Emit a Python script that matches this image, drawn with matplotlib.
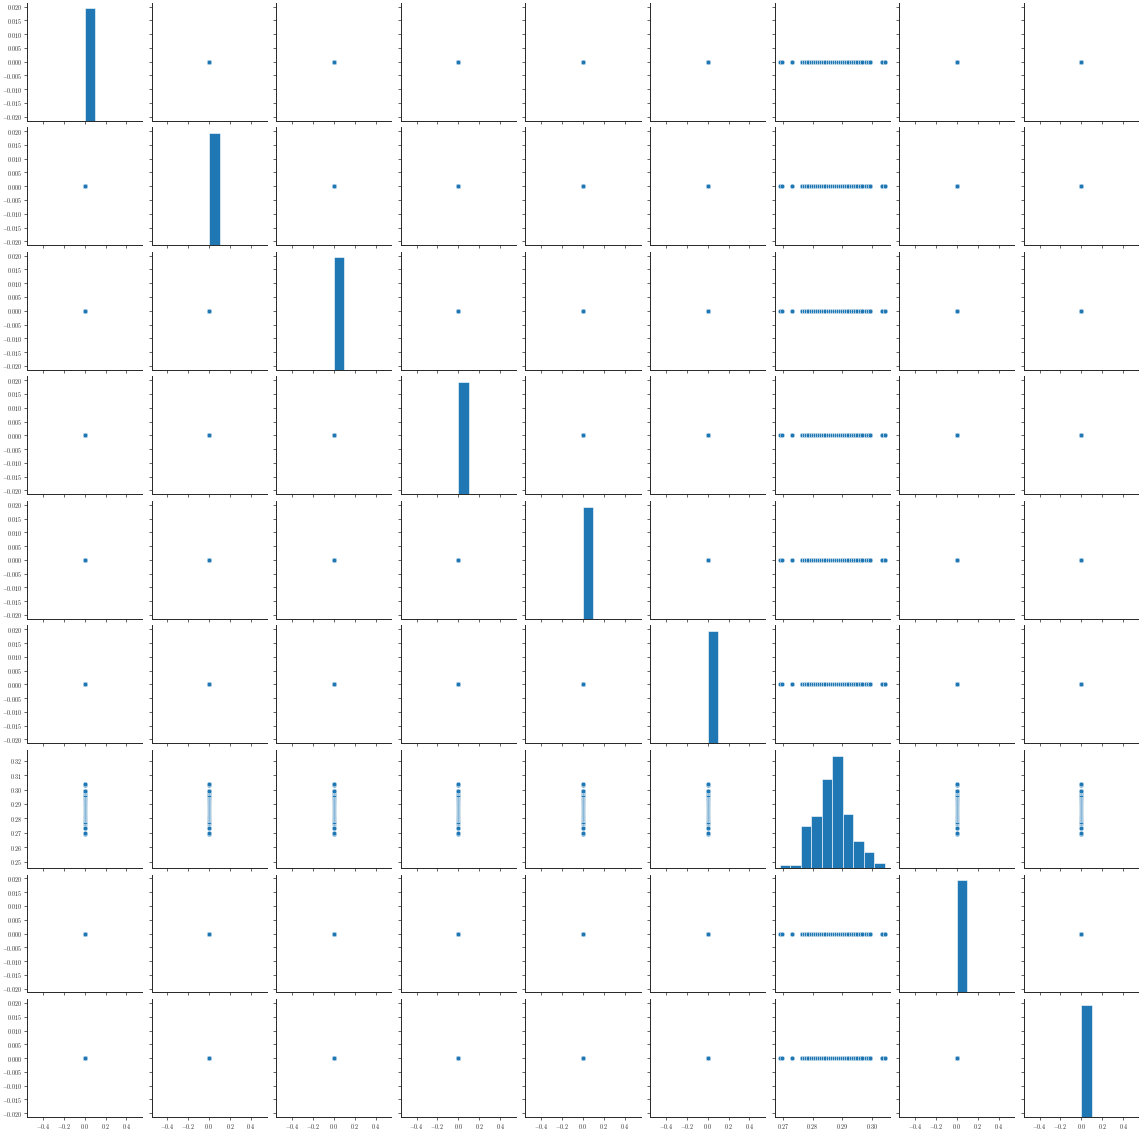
import numpy as np
import matplotlib
matplotlib.use("Agg")
import matplotlib.pyplot as plt

plt.rcParams["font.family"] = ["cmr10", "DejaVu Serif"]
plt.rcParams["axes.formatter.use_mathtext"] = True
plt.rcParams["mathtext.fontset"] = "cm"

# Distinct measured values of the one varying column and how often each occurs
varying_values = [0.2690, 0.2697, 0.2731,
                  0.2763, 0.2771, 0.2778, 0.2786, 0.2793,
                  0.2800, 0.2808, 0.2815, 0.2822, 0.2829,
                  0.2836, 0.2843, 0.2850, 0.2857, 0.2864,
                  0.2871, 0.2878, 0.2885, 0.2892, 0.2899,
                  0.2906, 0.2913, 0.2920, 0.2927, 0.2934,
                  0.2943, 0.2950, 0.2957, 0.2964,
                  0.2978, 0.2985, 0.2993,
                  0.3033, 0.3041]
varying_counts = [1, 1, 2,
                  5, 6, 7, 7, 7,
                  7, 8, 8, 8, 8,
                  13, 13, 14, 14, 13,
                  17, 17, 17, 17, 17,
                  8, 8, 9, 8, 8,
                  5, 5, 5, 5,
                  4, 4, 4,
                  2, 2]
n_vars = 9
varying_index = 6

varying = np.repeat(varying_values, varying_counts)
n_obs = len(varying)
columns = [np.zeros(n_obs) for _ in range(n_vars)]
columns[varying_index] = varying

zero_ylim = (-0.0214, 0.0214)
varying_ylim = (0.2457, 0.3274)
zero_yticks = [-0.020, -0.015, -0.010, -0.005, 0.000, 0.005, 0.010, 0.015, 0.020]
varying_yticks = [0.25, 0.26, 0.27, 0.28, 0.29, 0.30, 0.31, 0.32]
zero_xticks = [-0.4, -0.2, 0.0, 0.2, 0.4]
varying_xticks = [0.27, 0.28, 0.29, 0.30]

blue = "#1f77b4"
edge = "#262626"

fig, axes = plt.subplots(n_vars, n_vars, figsize=(11.39, 11.35), dpi=100,
                         sharex="col", sharey="row")
W, H = 1139.0, 1135.0
fig.subplots_adjust(left=27 / W, right=1.0, top=1 - 2.7 / H, bottom=18 / H,
                    wspace=9.4 / 115.2, hspace=6.65 / 117.9)

for i in range(n_vars):
    for j in range(n_vars):
        ax = axes[i, j]
        for s in ("top", "right"):
            ax.spines[s].set_visible(False)
        for s in ("left", "bottom"):
            ax.spines[s].set_color(edge)
            ax.spines[s].set_linewidth(0.7)
        ax.tick_params(length=2, width=0.5, labelsize=4.3, colors=edge, pad=1.5)
        if i == j:
            hax = ax.twinx()
            hax.hist(columns[j], bins=10, color=blue, edgecolor="white",
                     linewidth=0.4)
            hax.set_axis_off()
        else:
            ax.scatter(columns[j], columns[i], s=11, color=blue,
                       edgecolor="white", linewidth=0.3, zorder=3)

for i in range(n_vars):
    row_ax = axes[i, 0]
    if i == varying_index:
        row_ax.set_ylim(*varying_ylim)
        row_ax.set_yticks(varying_yticks)
    else:
        row_ax.set_ylim(*zero_ylim)
        row_ax.set_yticks(zero_yticks)

for j in range(n_vars):
    col_ax = axes[-1, j]
    if j == varying_index:
        col_ax.set_xticks(varying_xticks)
    else:
        col_ax.set_xlim(-0.55, 0.55)
        col_ax.set_xticks(zero_xticks)

fig.savefig("out.png", dpi=100)
